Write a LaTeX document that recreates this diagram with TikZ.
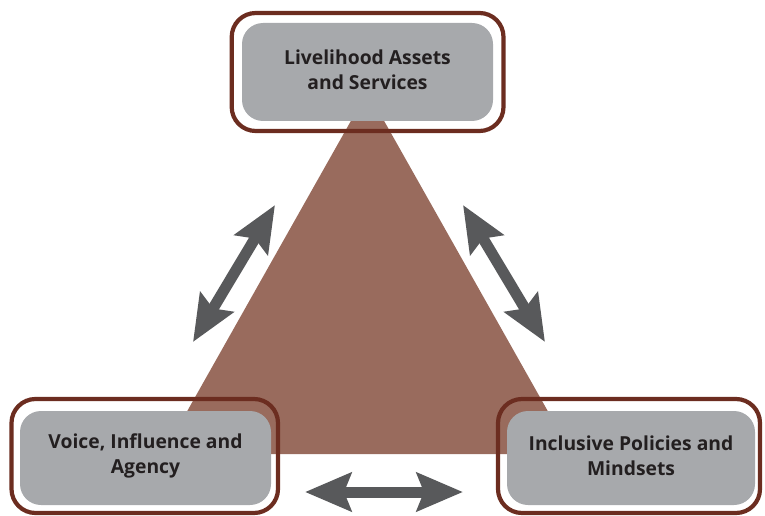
\documentclass[tikz,border=0pt]{standalone}
\usepackage{fontspec}
\setmainfont{Open Sans}
\usetikzlibrary{arrows.meta}
\definecolor{tribrown}{HTML}{996B5D}
\definecolor{rimbrown}{HTML}{6C2D20}
\definecolor{boxgray}{HTML}{A7A9AC}
\definecolor{arrowgray}{HTML}{58595B}
\definecolor{textdark}{HTML}{231F20}
\tikzset{
  rim/.style={draw=rimbrown, line width=4.2pt, rounded corners=24pt},
  graybox/.style={fill=boxgray, rounded corners=21pt},
  label/.style={font=\bfseries\fontsize{19.3}{25.5}\selectfont, text=textdark, align=center},
  dbl/.style={draw=arrowgray, line width=11pt, {Stealth[length=46pt,width=38pt,inset=7pt]}-{Stealth[length=46pt,width=38pt,inset=7pt]}}
}
\begin{document}
\begin{tikzpicture}[x=1pt,y=-1pt]
\useasboundingbox (0,0) rectangle (765,516);
% triangle
\fill[tribrown] (367.5,91.5) -- (572,454) -- (163,454) -- cycle;
% gray boxes
\fill[graybox] (242,23) rectangle (493,121);
\fill[graybox] (20,411) rectangle (271,505);
\fill[graybox] (507,411) rectangle (755,505);
% rims
\draw[rim] (231.7,13) rectangle (503.5,131);
\draw[rim] (11.5,399) rectangle (278,513);
\draw[rim] (498,399) rectangle (760,513);
% labels
\node[label] (las) at (367.5,70) {Livelihood Assets\\and Services};
\node[label] (via) at (145.5,456) {Voice, Influence and\\Agency};
\node[label] (ipm) at (631,456) {Inclusive Policies and\\Mindsets};
% arrow ends
\coordinate (l1) at (275,205);
\coordinate (l2) at (193,342);
\coordinate (r1) at (463,205);
\coordinate (r2) at (545,342);
\coordinate (b1) at (305,492);
\coordinate (b2) at (463,492);
\draw[dbl] (l1) -- (l2);
\draw[dbl] (r1) -- (r2);
\draw[dbl] (b1) -- (b2);
\end{tikzpicture}
\end{document}
